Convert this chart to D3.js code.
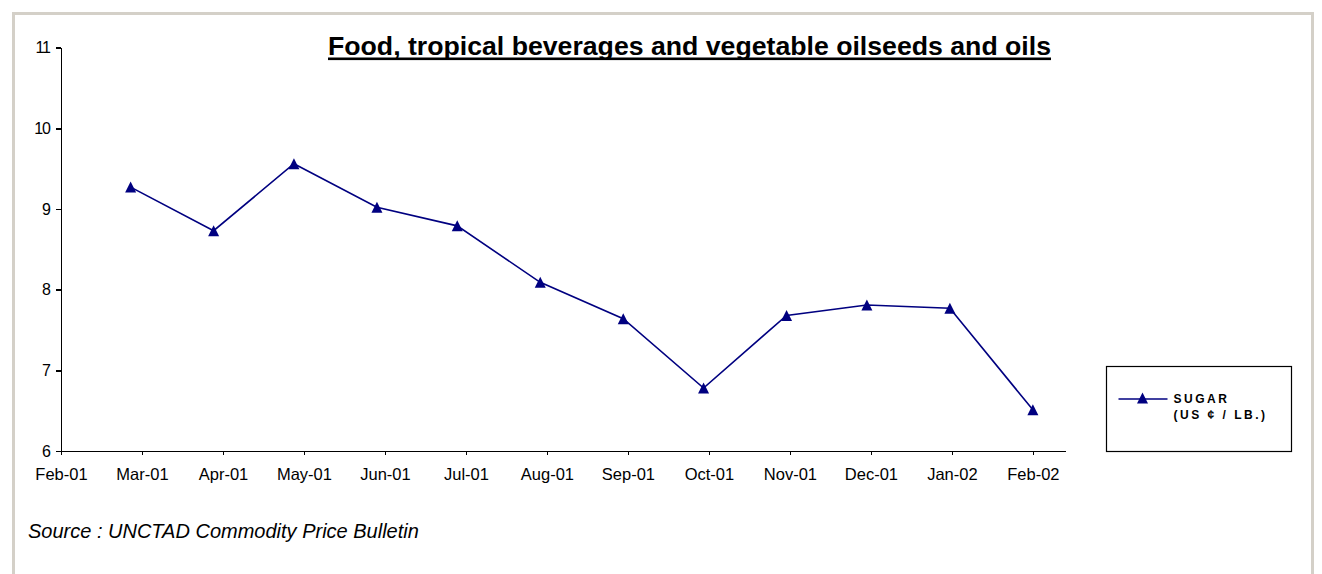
<html><head>
<script type="text/javascript" src="https://cdn.jsdelivr.net/npm/d3@7/dist/d3.min.js"></script>
<style>
body{
	margin: 0px;
	background: #ffffff;
}
text {
	font-family: "Liberation Sans", Arial, sans-serif;
	fill: #000;
}
.axis path, .axis line {
	stroke: #000;
	stroke-width: 1.6px;
	shape-rendering: crispEdges;
}
.series {
	fill: none;
	stroke: #000080;
	stroke-width: 1.6px;
}
.marker {
	fill: #000080;
}
</style>
<title>Sugar</title>
<meta charset="utf-8"></head>
<body>
<script>
var width = 1322,
    height = 574;

// months of the observations (first of each month)
var months = ["2001-03-01","2001-04-01","2001-05-01","2001-06-01","2001-07-01","2001-08-01",
              "2001-09-01","2001-10-01","2001-11-01","2001-12-01","2002-01-01","2002-02-01"];
// sugar price, US cents per lb
var sugar = [9.27, 8.73, 9.56, 9.02, 8.79, 8.09, 7.64, 6.78, 7.68, 7.81, 7.77, 6.51];

var yTicks = [6, 7, 8, 9, 10, 11];
var xTickLabels = ["Feb-01","Mar-01","Apr-01","May-01","Jun-01","Jul-01","Aug-01",
                   "Sep-01","Oct-01","Nov-01","Dec-01","Jan-02","Feb-02"];
// date axis of the original: starts a bit after Feb 1 and runs past the last point
var axisStart = "2001-02-03",
    axisLastTick = "2002-02-01",
    axisEnd = "2002-02-13";

var title = "Food, tropical beverages and vegetable oilseeds and oils";
var seriesName = ["SUGAR", "(US \u00a2 / LB.)"];
var source = "Source : UNCTAD Commodity Price Bulletin";

var parse = d3.utcParse("%Y-%m-%d");

var svg = d3.select("body").append("svg")
    .attr("width", width)
    .attr("height", height);

svg.append("rect")
	.attr("width", width)
	.attr("height", height)
	.attr("fill", "#ffffff");

// grey frame round the chart area
svg.append("path")
	.attr("d", "M13.5,600 L13.5,13.5 L1312.5,13.5 L1312.5,600")
	.attr("fill", "none")
	.attr("stroke", "#d4d0c8")
	.attr("stroke-width", 3);

var x = d3.scaleUtc()
	.domain([parse(axisStart), parse(axisEnd)])
	.range([61, 1065]);

var y = d3.scaleLinear()
	.domain([6, 11])
	.range([451, 47.5]);

// ticks are evenly spaced between the first and last label
var t0 = parse(axisStart).getTime(),
    t1 = parse(axisLastTick).getTime();
var tickDates = xTickLabels.map(function(l, i){
	return new Date(t0 + i * (t1 - t0) / (xTickLabels.length - 1));
});

var xAxis = svg.append("g")
	.attr("class", "axis")
	.attr("transform", "translate(0," + y(6) + ")")
	.call(d3.axisBottom(x)
		.tickValues(tickDates)
		.tickSize(4)
		.tickSizeOuter(0)
		.tickPadding(13)
		.tickFormat(function(d, i){ return xTickLabels[i]; }));
xAxis.selectAll("text")
	.attr("font-size", 16.5)
	.attr("font-family", "Liberation Sans, Arial, sans-serif")
	.attr("fill", "#000");

var yAxis = svg.append("g")
	.attr("class", "axis")
	.attr("transform", "translate(" + x(parse(axisStart)) + ",0)")
	.call(d3.axisLeft(y)
		.tickValues(yTicks)
		.tickSize(5)
		.tickSizeOuter(0)
		.tickPadding(6)
		.tickFormat(d3.format("d")));
yAxis.selectAll("text")
	.attr("font-size", 16)
	.attr("letter-spacing", -1)
	.attr("font-family", "Liberation Sans, Arial, sans-serif")
	.attr("fill", "#000");

// title, underlined
var tt = svg.append("text")
	.text(title)
	.attr("x", 689.5)
	.attr("y", 54.5)
	.attr("text-anchor", "middle")
	.attr("font-size", 25)
	.attr("font-weight", "bold")
	.attr("textLength", 723)
	.attr("lengthAdjust", "spacingAndGlyphs");
svg.append("rect")
	.attr("x", 689.5 - 723 / 2)
	.attr("y", 57.5)
	.attr("width", 723)
	.attr("height", 2.6)
	.attr("fill", "#000");

// the series
var pts = months.map(function(m, i){ return {date: parse(m), value: sugar[i]}; });

var line = d3.line()
	.x(function(d){ return x(d.date); })
	.y(function(d){ return y(d.value); });

svg.append("path")
	.datum(pts)
	.attr("class", "series")
	.attr("d", line);

var tri = "M0,-5.5 L5.5,5.5 L-5.5,5.5 Z";

svg.selectAll(".marker")
	.data(pts)
	.enter().append("path")
	.attr("class", "marker")
	.attr("d", tri)
	.attr("transform", function(d){ return "translate(" + x(d.date) + "," + y(d.value) + ")"; });

// legend
var lg = svg.append("g").attr("transform", "translate(1106.5,366.5)");
lg.append("rect")
	.attr("width", 185)
	.attr("height", 85)
	.attr("fill", "#fff")
	.attr("stroke", "#000")
	.attr("stroke-width", 1.2);
lg.append("line")
	.attr("x1", 12).attr("x2", 61)
	.attr("y1", 32.5).attr("y2", 32.5)
	.attr("stroke", "#000080")
	.attr("stroke-width", 1.6);
lg.append("path")
	.attr("class", "marker")
	.attr("d", tri)
	.attr("transform", "translate(36,31.5)");
lg.selectAll(".lgtext")
	.data(seriesName)
	.enter().append("text")
	.attr("class", "lgtext")
	.text(function(d){ return d; })
	.attr("x", 67)
	.attr("y", function(d, i){ return 36 + i * 16.5; })
	.attr("font-size", 12)
	.attr("font-weight", "bold")
	.attr("letter-spacing", 2.5);

svg.append("text")
	.text(source)
	.attr("x", 28)
	.attr("y", 537.5)
	.attr("font-size", 20)
	.attr("font-style", "italic");

</script>
</body></html>
